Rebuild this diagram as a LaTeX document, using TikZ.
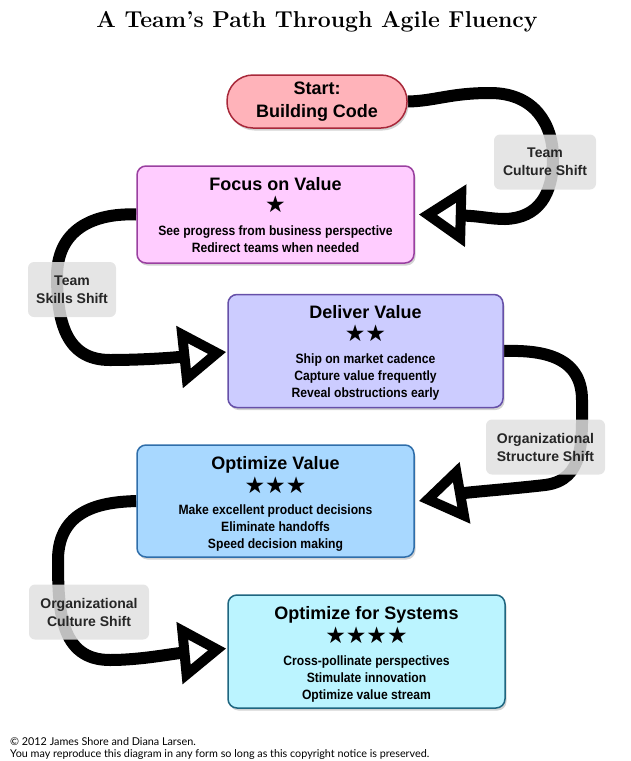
\documentclass[tikz,border=0pt]{standalone}
\usepackage{fontspec}
\newfontfamily\hel{Liberation Sans}
\newfontfamily\cond[FakeStretch=0.9]{Liberation Sans}
\newfontfamily\symf{DejaVu Sans}
\newfontfamily\gill{Lato}
\usetikzlibrary{arrows.meta,shadows,backgrounds}
\definecolor{startfill}{HTML}{FFB3BA}
\definecolor{startdraw}{HTML}{A8283A}
\definecolor{focusfill}{HTML}{FFCCFF}
\definecolor{focusdraw}{HTML}{9A40A0}
\definecolor{delivfill}{HTML}{CCCCFF}
\definecolor{delivdraw}{HTML}{6650A8}
\definecolor{optfill}{HTML}{A8D8FF}
\definecolor{optdraw}{HTML}{2F6EAA}
\definecolor{sysfill}{HTML}{BBF4FF}
\definecolor{sysdraw}{HTML}{1F6680}
\definecolor{labfill}{HTML}{E0E0E0}
\begin{document}
\begin{tikzpicture}[x=1pt,y=-1pt,
  box/.style={draw, line width=1.5pt, rounded corners=9pt, minimum width=277pt,
    minimum height=113pt, inner sep=0pt,
    drop shadow={shadow xshift=1.5pt, shadow yshift=-2.5pt, opacity=0.35}},
  ttl/.style={anchor=base, inner sep=0pt, font=\hel\bfseries\fontsize{18}{20}\selectfont},
  stars/.style={inner sep=0pt, font=\symf\fontsize{23}{23}\selectfont},
  body/.style={inner sep=0pt, align=center, font=\cond\bfseries\fontsize{13.5}{17}\selectfont},
  lab/.style={fill=labfill, fill opacity=0.85, text opacity=1, rounded corners=6pt,
    minimum height=55pt, inner sep=0pt, align=center,
    font=\hel\bfseries\fontsize{14}{18}\selectfont, text=black!85},
  conn/.style={line width=12pt, -{Triangle[open, length=47pt, width=60pt, line width'=10pt]}},
  copy/.style={anchor=base west, inner sep=0pt, font=\gill\fontsize{10.8}{12}\selectfont}
]
\useasboundingbox (0,0) rectangle (631,761);

% title
\node[inner sep=0pt, font=\bfseries\fontsize{23}{25}\selectfont] (title) at (317,22) {A Team’s Path Through Agile Fluency};

% boxes
\node[draw=startdraw, fill=startfill, line width=1.5pt, rounded corners=26pt,
  minimum width=180pt, minimum height=53pt, align=center,
  drop shadow={shadow xshift=1.5pt, shadow yshift=-2.5pt, opacity=0.35},
  font=\hel\bfseries\fontsize{18}{23}\selectfont] (start) at (317,101.5) {Start:\\Building Code};

\node[box, draw=focusdraw, fill=focusfill, minimum height=97pt] (focus) at (275.5,214.5) {};
\node[ttl] (focusT) at (275.5,190.5) {Focus on Value};
\node[stars] (focusS) at (275.5,204) {★};
\node[body] (focusB) at (275.5,239.5) {See progress from business perspective\\Redirect teams when needed};

\node[box, draw=delivdraw, fill=delivfill, minimum width=275pt] (deliv) at (365.5,351) {};
\node[ttl] (delivT) at (365.5,318.5) {Deliver Value};
\node[stars] (delivS) at (365.5,333) {★★};
\node[body] (delivB) at (365.5,377) {Ship on market cadence\\Capture value frequently\\Reveal obstructions early};

\node[box, draw=optdraw, fill=optfill, minimum height=112pt] (opt) at (275.5,501) {};
\node[ttl] (optT) at (275.5,469.5) {Optimize Value};
\node[stars] (optS) at (275.5,485) {★★★};
\node[body] (optB) at (275.5,528) {Make excellent product decisions\\Eliminate handoffs\\Speed decision making};

\node[box, draw=sysdraw, fill=sysfill] (sys) at (366.5,651.5) {};
\node[ttl] (sysT) at (366.5,619.5) {Optimize for Systems};
\node[stars] (sysS) at (366.5,635) {★★★★};
\node[body] (sysB) at (366.5,679) {Cross-pollinate perspectives\\Stimulate innovation\\Optimize value stream};

% connectors
\begin{scope}[on background layer]
\draw[conn] (start.east) .. controls (435,101) and (450,93) .. (490,93)
  .. controls (535,93) and (553,125) .. (553,158)
  .. controls (553,195) and (538,218) .. (505,219)
  .. controls (490,219) and (480,216) .. ([xshift=4pt]focus.east);
\draw[conn] (focus.west) .. controls (100,213) and (58,225) .. (57,275)
  .. controls (57,320) and (65,360) .. (110,360)
  .. controls (140,360) and (170,358) .. ([xshift=-1pt,yshift=-1pt]deliv.west);
\draw[conn] (deliv.east) .. controls (540,350) and (582,355) .. (582,400)
  .. controls (582,440) and (585,480) .. (545,485)
  .. controls (510,489) and (470,492) .. ([xshift=4pt]opt.east);
\draw[conn] (opt.west) .. controls (110,502) and (58,505) .. (58,560)
  .. controls (58,610) and (60,660) .. (110,660)
  .. controls (140,660) and (170,654) .. ([xshift=-1pt,yshift=3pt]sys.west);
\end{scope}

% labels
\node[lab, minimum width=102pt] (l1) at (545,162) {Team\\Culture Shift};
\node[lab, minimum width=88pt] (l2) at (72,289.5) {Team\\Skills Shift};
\node[lab, minimum width=119pt] (l3) at (545.5,447) {Organizational\\Structure Shift};
\node[lab, minimum width=120pt] (l4) at (89,612) {Organizational\\Culture Shift};

% copyright
\node[copy] (c1) at (10,745) {© 2012 James Shore and Diana Larsen.};
\node[copy] (c2) at (10,757) {You may reproduce this diagram in any form so long as this copyright notice is preserved.};
\end{tikzpicture}
\end{document}
